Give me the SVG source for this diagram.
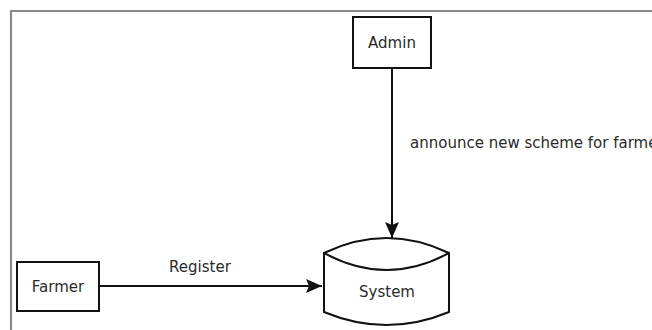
<svg xmlns="http://www.w3.org/2000/svg" width="652" height="330" viewBox="0 0 652 330">
  <style>
    .frame { fill: none; stroke: #8a8a8a; stroke-width: 2.2; }
    .box { fill: #ffffff; stroke: #111111; stroke-width: 2; }
    .edge { fill: none; stroke: #111111; stroke-width: 2; }
    .lbl { font-family: "DejaVu Sans", Verdana, sans-serif; font-size: 15px; fill: #2a2a2a; }
  </style>
  <defs>
    <marker id="arrow" markerUnits="userSpaceOnUse" markerWidth="18" markerHeight="16" refX="17" refY="8" orient="auto">
      <path d="M17,8 L1,1 L4,8 L1,15 Z" fill="#111111"/>
    </marker>
  </defs>
  <rect width="652" height="330" fill="#ffffff"/>
  <path class="frame" d="M11,330 L11,11 L652,11"/>

  <g id="connectors">
    <g id="edge-admin-system">
      <line class="edge" x1="392" y1="68" x2="392" y2="238" marker-end="url(#arrow)"/>
      <text class="lbl" x="410" y="148">announce new scheme for farmers</text>
    </g>
    <g id="edge-farmer-system">
      <line class="edge" x1="99" y1="286" x2="322" y2="286" marker-end="url(#arrow)"/>
      <text class="lbl" x="200" y="272" text-anchor="middle">Register</text>
    </g>
  </g>

  <g id="node-admin">
    <rect class="box" x="353" y="17" width="78" height="51"/>
    <text class="lbl" x="392" y="48" text-anchor="middle">Admin</text>
  </g>

  <g id="node-farmer">
    <rect class="box" x="17" y="262" width="82" height="49"/>
    <text class="lbl" x="58" y="292" text-anchor="middle">Farmer</text>
  </g>

  <g id="node-system">
    <path class="box" d="M324,253 Q386.5,223 449,253 L449,312 Q386.5,338 324,312 Z"/>
    <path class="edge" d="M324,253 Q386.5,287 449,253"/>
    <text class="lbl" x="387" y="297" text-anchor="middle">System</text>
  </g>
</svg>
